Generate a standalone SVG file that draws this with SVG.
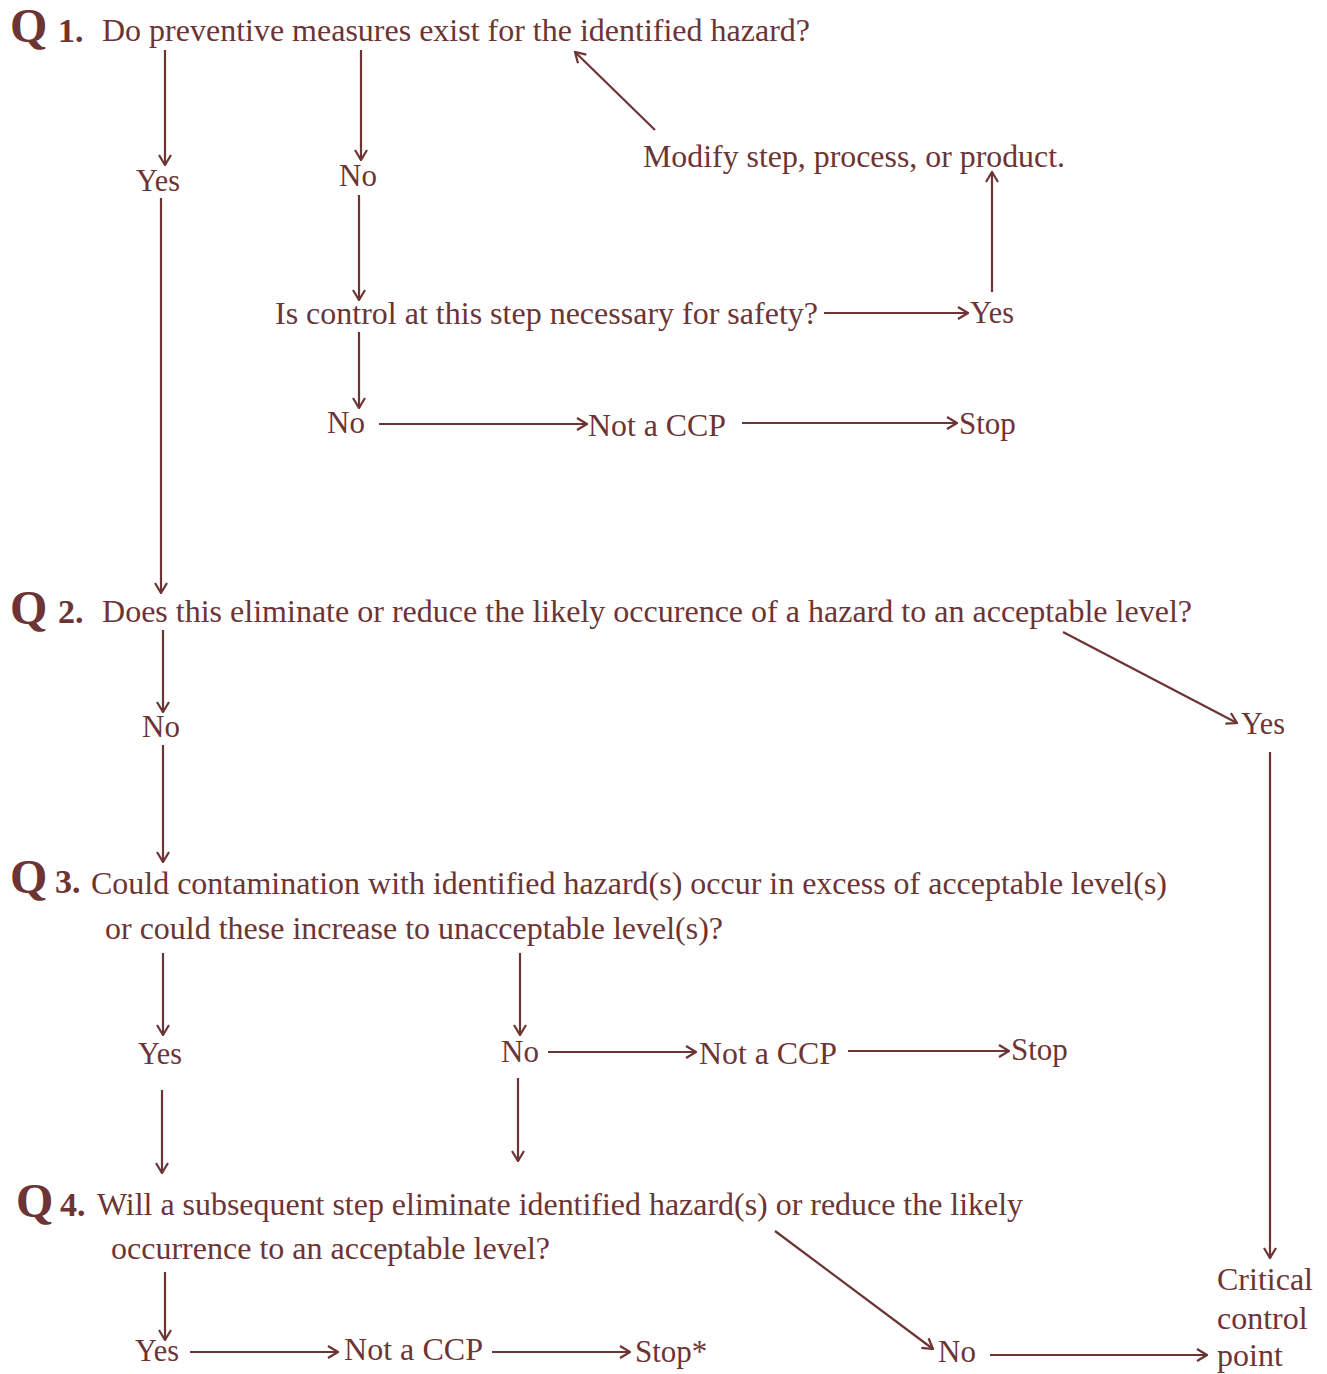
<svg xmlns="http://www.w3.org/2000/svg" width="1327" height="1374" viewBox="0 0 1327 1374">
<defs>
<marker id="ah" viewBox="0 0 12 14" refX="11" refY="7" markerWidth="12" markerHeight="14" markerUnits="userSpaceOnUse" orient="auto">
<path d="M1,1 L11,7 L1,13" fill="none" stroke="#6c3434" stroke-width="2.2"/>
</marker>
<style>
text{font-family:"Liberation Serif","Times New Roman",serif;fill:#6c3434;font-size:31px}
.q{font-weight:bold;font-size:48px}
.n{font-weight:bold;font-size:34px}
.c{text-anchor:middle}
.b{font-size:32px}
#connectors line{stroke:#6c3434;stroke-width:2.2;marker-end:url(#ah)}
</style>
</defs>
<rect width="1327" height="1374" fill="#ffffff"/>
<g id="connectors">
<line x1="165" y1="50" x2="165" y2="165"/>
<line x1="361" y1="50" x2="361" y2="160"/>
<line x1="655" y1="130" x2="575" y2="52"/>
<line x1="992" y1="292" x2="992" y2="172"/>
<line x1="359" y1="195" x2="359" y2="300"/>
<line x1="824" y1="313" x2="968" y2="313"/>
<line x1="359" y1="332" x2="359" y2="408"/>
<line x1="379" y1="424" x2="587" y2="424"/>
<line x1="742" y1="423" x2="957" y2="423"/>
<line x1="161" y1="198" x2="161" y2="593"/>
<line x1="163" y1="630" x2="163" y2="712"/>
<line x1="163" y1="745" x2="163" y2="862"/>
<line x1="1063" y1="632" x2="1237" y2="723"/>
<line x1="1270" y1="752" x2="1270" y2="1258"/>
<line x1="163" y1="953" x2="163" y2="1035"/>
<line x1="520" y1="953" x2="520" y2="1035"/>
<line x1="548" y1="1052" x2="696" y2="1052"/>
<line x1="848" y1="1051" x2="1009" y2="1051"/>
<line x1="162" y1="1090" x2="162" y2="1173"/>
<line x1="518" y1="1078" x2="518" y2="1161"/>
<line x1="165" y1="1272" x2="165" y2="1340"/>
<line x1="190" y1="1352" x2="338" y2="1352"/>
<line x1="492" y1="1352" x2="630" y2="1352"/>
<line x1="775" y1="1231" x2="933" y2="1349"/>
<line x1="990" y1="1355" x2="1207" y2="1355"/>
</g>
<g id="q1">
<text class="q" x="10" y="42">Q</text>
<text class="n" x="58" y="42">1.</text>
<text x="102" y="41" textLength="708" lengthAdjust="spacingAndGlyphs">Do preventive measures exist for the identified hazard?</text>
</g>
<g id="q1-yes"><text x="136" y="191" textLength="44" lengthAdjust="spacingAndGlyphs">Yes</text></g>
<g id="q1-no"><text x="339" y="186">No</text></g>
<g id="modify"><text x="643" y="167" textLength="422" lengthAdjust="spacingAndGlyphs">Modify step, process, or product.</text></g>
<g id="control"><text x="275" y="324" textLength="543" lengthAdjust="spacingAndGlyphs">Is control at this step necessary for safety?</text></g>
<g id="control-yes"><text x="970" y="323" textLength="44" lengthAdjust="spacingAndGlyphs">Yes</text></g>
<g id="control-no"><text x="327" y="433">No</text></g>
<g id="notccp1"><text x="588" y="436" textLength="138" lengthAdjust="spacingAndGlyphs">Not a CCP</text></g>
<g id="stop1"><text x="959" y="434">Stop</text></g>
<g id="q2">
<text class="q" x="10" y="624">Q</text>
<text class="n" x="58" y="623">2.</text>
<text x="102" y="622" textLength="1090" lengthAdjust="spacingAndGlyphs">Does this eliminate or reduce the likely occurence of a hazard to an acceptable level?</text>
</g>
<g id="q2-no"><text x="142" y="737">No</text></g>
<g id="q2-yes"><text x="1241" y="734" textLength="44" lengthAdjust="spacingAndGlyphs">Yes</text></g>
<g id="q3">
<text class="q" x="10" y="893">Q</text>
<text class="n" x="55" y="893">3.</text>
<text x="91" y="894" textLength="1076" lengthAdjust="spacingAndGlyphs">Could contamination with identified hazard(s) occur in excess of acceptable level(s)</text>
<text x="105" y="939" textLength="618" lengthAdjust="spacingAndGlyphs">or could these increase to unacceptable level(s)?</text>
</g>
<g id="q3-yes"><text x="138" y="1064" textLength="44" lengthAdjust="spacingAndGlyphs">Yes</text></g>
<g id="q3-no"><text x="501" y="1062">No</text></g>
<g id="notccp2"><text x="699" y="1064" textLength="138" lengthAdjust="spacingAndGlyphs">Not a CCP</text></g>
<g id="stop2"><text x="1011" y="1060">Stop</text></g>
<g id="q4">
<text class="q" x="16" y="1217">Q</text>
<text class="n" x="60" y="1216">4.</text>
<text x="97" y="1215" textLength="926" lengthAdjust="spacingAndGlyphs">Will a subsequent step eliminate identified hazard(s) or reduce the likely</text>
<text x="111" y="1259" textLength="439" lengthAdjust="spacingAndGlyphs">occurrence to an acceptable level?</text>
</g>
<g id="q4-yes"><text x="135" y="1361" textLength="44" lengthAdjust="spacingAndGlyphs">Yes</text></g>
<g id="notccp3"><text x="344" y="1360" textLength="139" lengthAdjust="spacingAndGlyphs">Not a CCP</text></g>
<g id="stop3"><text x="635" y="1362">Stop*</text></g>
<g id="q4-no"><text x="938" y="1362">No</text></g>
<g id="ccp">
<text class="b" x="1217" y="1290">Critical</text>
<text class="b" x="1217" y="1329">control</text>
<text class="b" x="1217" y="1366">point</text>
</g>
</svg>
